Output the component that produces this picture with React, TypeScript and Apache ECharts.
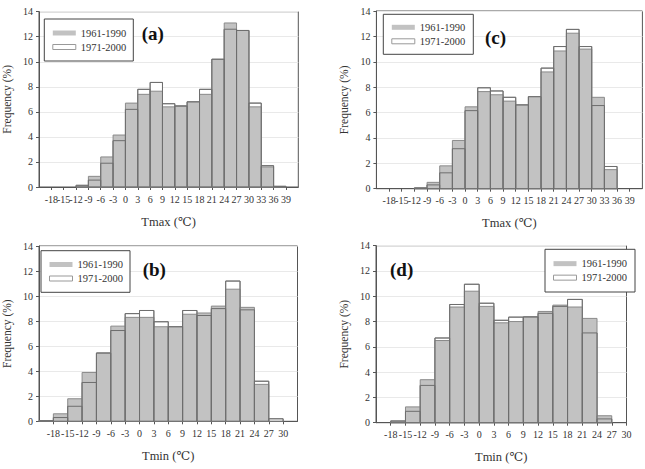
import React, { useEffect, useRef } from "react";
import * as echarts from "echarts";

// Histogram bins are 3 °C wide; each array entry is the bin's lower edge.
const BIN_WIDTH = 3;
const X_MIN = -21;

const tmaxBinStarts = [-21, -18, -15, -12, -9, -6, -3, 0, 3, 6, 9, 12, 15, 18, 21, 24, 27, 30, 33, 36, 39];
const tmaxTicks = [-18, -15, -12, -9, -6, -3, 0, 3, 6, 9, 12, 15, 18, 21, 24, 27, 30, 33, 36, 39];

const tminBinStartsB = [-21, -18, -15, -12, -9, -6, -3, 0, 3, 6, 9, 12, 15, 18, 21, 24, 27, 30];
const tminBinStartsD = [-21, -18, -15, -12, -9, -6, -3, 0, 3, 6, 9, 12, 15, 18, 21, 24, 27];
const tminTicks = [-18, -15, -12, -9, -6, -3, 0, 3, 6, 9, 12, 15, 18, 21, 24, 27, 30];

const freqTicks = [0, 2, 4, 6, 8, 10, 12, 14];

// Frequency (%) per bin
const tmaxA1961 = [0, 0, 0, 0.15, 0.85, 2.4, 4.15, 6.7, 7.4, 7.65, 6.4, 6.5, 6.8, 7.4, 10.2, 13.1, 12.5, 6.4, 1.6, 0.05, 0];
const tmaxA1971 = [0, 0, 0, 0.1, 0.55, 1.9, 3.7, 6.2, 7.8, 8.35, 6.65, 6.45, 6.8, 7.8, 10.2, 12.6, 12.5, 6.7, 1.7, 0.05, 0];

const tmaxC1961 = [0, 0, 0, 0.08, 0.5, 1.8, 3.8, 6.45, 7.65, 7.4, 6.9, 6.6, 7.25, 9.2, 10.85, 12.25, 11.0, 7.2, 1.5, 0, 0];
const tmaxC1971 = [0, 0, 0, 0.05, 0.3, 1.25, 3.15, 6.15, 7.95, 7.7, 7.2, 6.6, 7.25, 9.5, 11.2, 12.55, 11.2, 6.55, 1.75, 0, 0];

const tminB1961 = [0.05, 0.6, 1.8, 3.9, 5.45, 7.6, 8.3, 8.3, 7.55, 7.55, 8.55, 8.65, 9.2, 10.55, 9.1, 2.95, 0, 0];
const tminB1971 = [0.05, 0.3, 1.2, 3.1, 5.45, 7.25, 8.6, 8.85, 7.95, 7.55, 8.85, 8.45, 9.0, 11.2, 8.9, 3.2, 0.2, 0];

const tminD1961 = [0, 0.15, 1.25, 3.4, 6.5, 9.15, 10.4, 9.2, 7.9, 8.0, 8.4, 8.8, 9.3, 9.15, 8.25, 0.55, 0];
const tminD1971 = [0, 0.12, 0.9, 2.95, 6.7, 9.35, 10.95, 9.45, 8.1, 8.35, 8.35, 8.65, 9.2, 9.75, 7.1, 0.3, 0];

const P1 = "1961-1990";
const P2 = "1971-2000";

const FONT = "'Liberation Serif', 'DejaVu Serif', serif";
const GRAY = "#c2c2c2";
const EDGE = "#8a8a8a";
const INNER = "#6e6e6e";
const AXIS = "#555";
const TEXT = "#333";

type Box = { x: number; y: number; w: number; h: number };
type Panel = {
  tag: string;
  xName: string;
  binStarts: number[];
  ticks: number[];
  xMax: number;
  v1961: number[];
  v1971: number[];
  grid: { left: number; top: number; width: number; height: number };
  legendBox: Box;
  tagPos: { left: number; top: number };
};

const panels: Panel[] = [
  {
    tag: "(a)", xName: "Tmax (\u2103)", binStarts: tmaxBinStarts, ticks: tmaxTicks, xMax: 42,
    v1961: tmaxA1961, v1971: tmaxA1971,
    grid: { left: 35.5, top: 11.7, width: 262.8, height: 175.3 },
    legendBox: { x: 44.3, y: 19, w: 89, h: 42 },
    tagPos: { left: 141.7, top: 23.5 },
  },
  {
    tag: "(c)", xName: "Tmax (\u2103)", binStarts: tmaxBinStarts, ticks: tmaxTicks, xMax: 42,
    v1961: tmaxC1961, v1971: tmaxC1971,
    grid: { left: 376.4, top: 11, width: 266, height: 177.7 },
    legendBox: { x: 383.3, y: 14.3, w: 90, h: 40 },
    tagPos: { left: 485, top: 28 },
  },
  {
    tag: "(b)", xName: "Tmin (\u2103)", binStarts: tminBinStartsB, ticks: tminTicks, xMax: 33,
    v1961: tminB1961, v1971: tminB1971,
    grid: { left: 35, top: 246, width: 262.5, height: 175.3 },
    legendBox: { x: 41, y: 250.7, w: 89, h: 41.6 },
    tagPos: { left: 142.7, top: 259.5 },
  },
  {
    tag: "(d)", xName: "Tmin (\u2103)", binStarts: tminBinStartsD, ticks: tminTicks, xMax: 30,
    v1961: tminD1961, v1971: tminD1971,
    grid: { left: 376, top: 245.7, width: 250.5, height: 177 },
    legendBox: { x: 545, y: 249.3, w: 90, h: 42.7 },
    tagPos: { left: 390, top: 259.5 },
  },
];

// Draws one histogram bar from [lowerEdge, upperEdge, value] through the axis scales.
function barRenderer(fill: string, stroke: string) {
  return (_params: any, api: any) => {
    const x0 = api.value(0);
    const x1 = api.value(1);
    const v = api.value(2);
    if (!v) return null;
    const top = api.coord([x0, v]);
    const bottom = api.coord([x1, 0]);
    return {
      type: "rect",
      shape: { x: top[0], y: top[1], width: bottom[0] - top[0], height: bottom[1] - top[1] },
      style: { fill, stroke, lineWidth: 1 },
    };
  };
}

function binData(starts: number[], values: number[]) {
  return starts.map((s, i) => [s, s + BIN_WIDTH, values[i]]);
}

function buildOption() {
  const grid: any[] = [];
  const xAxis: any[] = [];
  const yAxis: any[] = [];
  const series: any[] = [];
  const legend: any[] = [];
  const title: any[] = [];
  const graphic: any[] = [];

  panels.forEach((p, i) => {
    grid.push({ ...p.grid, show: true, borderColor: AXIS, borderWidth: 1, containLabel: false });
    xAxis.push({
      gridIndex: i,
      type: "value",
      min: X_MIN,
      max: p.xMax,
      name: p.xName,
      nameLocation: "middle",
      nameGap: 28,
      nameTextStyle: { fontFamily: FONT, fontSize: 12.5, color: TEXT },
      axisLine: { show: true, onZero: false, lineStyle: { color: AXIS } },
      axisTick: { show: true, inside: false, length: 3, customValues: p.ticks, lineStyle: { color: AXIS } },
      axisLabel: {
        // the axis origin carries an empty label so the packed -18/-15 pair both stay visible
        customValues: [X_MIN, ...p.ticks],
        formatter: (v: number) => (v === X_MIN ? "" : String(v)),
        hideOverlap: false,
        margin: 7,
        fontFamily: FONT,
        fontSize: 10,
        color: TEXT,
      },
      splitLine: { show: false },
    });
    yAxis.push({
      gridIndex: i,
      type: "value",
      min: 0,
      max: 14,
      interval: 2,
      name: "Frequency (%)",
      nameLocation: "middle",
      nameGap: 26,
      nameTextStyle: { fontFamily: FONT, fontSize: 11.5, color: TEXT },
      axisLine: { show: true, onZero: false, lineStyle: { color: AXIS } },
      axisTick: { show: true, inside: false, length: 3, lineStyle: { color: AXIS } },
      axisLabel: { fontFamily: FONT, fontSize: 10, color: TEXT, margin: 6, customValues: freqTicks },
      splitLine: { show: true, lineStyle: { color: "#e9e9e9" } },
    });

    const d1961 = binData(p.binStarts, p.v1961);
    const d1971 = binData(p.binStarts, p.v1971);
    const common = { type: "custom", xAxisIndex: i, yAxisIndex: i, encode: { x: [0, 1], y: 2 } };
    series.push({ ...common, name: P2, z: 1, itemStyle: { color: "#fff" }, renderItem: barRenderer("#fff", EDGE), data: d1971 });
    series.push({ ...common, name: P1, z: 2, itemStyle: { color: GRAY }, renderItem: barRenderer(GRAY, EDGE), data: d1961 });
    series.push({ ...common, name: P2, z: 3, itemStyle: { color: "#fff" }, renderItem: barRenderer("none", INNER), data: d1971 });

    const b = p.legendBox;
    // framed legend: white box behind, ECharts legend entries inside
    graphic.push({
      type: "rect",
      z: 10,
      shape: { x: b.x, y: b.y, width: b.w, height: b.h },
      style: { fill: "#fff", stroke: "#444", lineWidth: 1 },
      silent: true,
    });
    legend.push({
      left: b.x + 8,
      top: b.y + (b.h - 26) / 2,
      orient: "vertical",
      padding: 0,
      itemGap: 2,
      itemWidth: 23,
      itemHeight: 5,
      z: 20,
      selectedMode: false,
      icon: "rect",
      textStyle: { fontFamily: FONT, fontSize: 10.5, color: TEXT, lineHeight: 12 },
      data: [
        { name: P1, itemStyle: { color: GRAY, borderWidth: 0 } },
        { name: P2, itemStyle: { color: "#fff", borderColor: "#999", borderWidth: 1 } },
      ],
    });

    title.push({
      text: p.tag,
      left: p.tagPos.left,
      top: p.tagPos.top,
      padding: 0,
      textStyle: { fontFamily: FONT, fontSize: 19, fontWeight: "bold", color: "#111", lineHeight: 19 },
    });
  });

  return { animation: false, backgroundColor: "#fff", grid, xAxis, yAxis, series, legend, title, graphic };
}

export default function App() {
  const ref = useRef<HTMLDivElement>(null);
  useEffect(() => {
    if (!ref.current) return;
    const chart = echarts.init(ref.current, undefined, { renderer: "svg" });
    chart.setOption(buildOption() as any);
    return () => chart.dispose();
  }, []);
  return (
    <div
      ref={ref}
      style={{ position: "fixed", left: 0, top: 0, width: 645, height: 469, background: "#fff" }}
    />
  );
}
